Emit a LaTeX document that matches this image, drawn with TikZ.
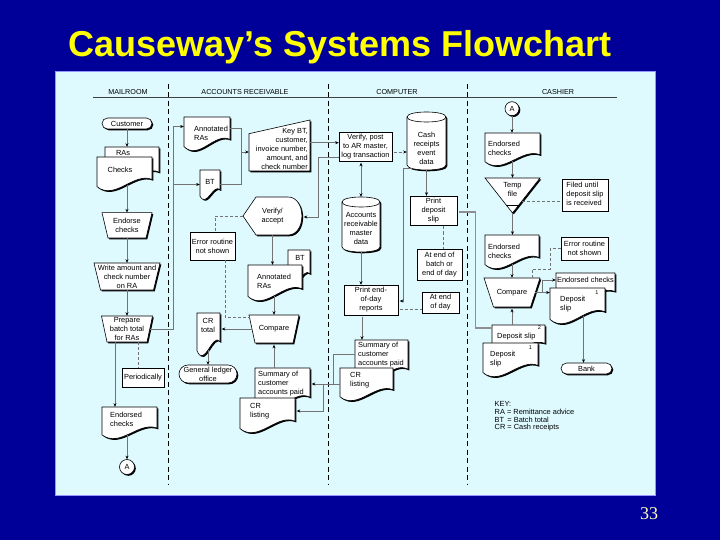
\documentclass[tikz,border=0pt]{standalone}
\usepackage{fontspec}
\setmainfont{Liberation Sans}
\newfontfamily\numfont{Liberation Serif}
\usetikzlibrary{arrows.meta,calc}
\definecolor{bgblue}{RGB}{0,0,153}
\definecolor{panelc}{RGB}{222,250,255}
\definecolor{panelb}{RGB}{150,150,255}
\definecolor{linec}{RGB}{115,115,115}
\definecolor{ttl}{RGB}{255,255,0}
\definecolor{numc}{RGB}{255,255,190}
\newcommand\fs{\fontsize{7.4}{9}\selectfont}
\tikzset{
 shapeline/.style={fill=white,draw=black,line width=0.6pt},
 lbl/.style={font=\fs,inner sep=0pt,align=center},
 anc/.style={inner sep=0pt},
 ln/.style={draw=linec,line width=0.6pt},
 ar/.style={ln,-{Stealth[length=3.6pt,width=3pt,color=black]}},
 dar/.style={ln,{Stealth[length=3.6pt,width=3pt,color=black]}-{Stealth[length=3.6pt,width=3pt,color=black]}},
 dl/.style={ln,dash pattern=on 3pt off 2pt},
 dlar/.style={dl,-{Stealth[length=3.6pt,width=3pt,color=black]}},
 lane/.style={draw=black,line width=0.7pt,dash pattern=on 5pt off 3.5pt},
 hdr/.style={font=\fontsize{7.2}{8}\selectfont,inner sep=0pt,anchor=base},
 thk/.style={draw=linec!80,line width=1.3pt},
 ann/.style={lbl,draw=black,line width=0.5pt,fill=white},
 numsty/.style={font=\fontsize{5.5}{6}\selectfont,inner sep=0pt},
 keysty/.style={font=\fs,inner sep=0pt,anchor=base west},
}
% shape with drop shadow
\newcommand\shp[1]{\fill[black,shift={(1.3,1.3)}] #1; \filldraw[shapeline] #1;}
% process box: name x0 y0 x1 y1 text
\newcommand\procnode[6]{%
 \shp{(#2,#3) rectangle (#4,#5)}%
 \pgfmathsetmacro\nw{#4-#2}\pgfmathsetmacro\nh{#5-#3}%
 \node[lbl,minimum width=\nw pt,minimum height=\nh pt] (#1) at ({(#2+#4)/2},{(#3+#5)/2}) {#6};}
% annotation box
\newcommand\annnode[6]{%
 \pgfmathsetmacro\nw{#4-#2}\pgfmathsetmacro\nh{#5-#3}%
 \node[ann,minimum width=\nw pt,minimum height=\nh pt] (#1) at ({(#2+#4)/2},{(#3+#5)/2}) {#6};}
% terminal
\newcommand\termnode[6]{%
 \pgfmathsetmacro\rr{(#5-#3)/2}%
 \shp{(#2,#3) [rounded corners=\rr pt] rectangle (#4,#5)}%
 \pgfmathsetmacro\nw{#4-#2}\pgfmathsetmacro\nh{#5-#3}%
 \node[lbl,minimum width=\nw pt,minimum height=\nh pt] (#1) at ({(#2+#4)/2},{(#3+#5)/2}) {#6};}
% manual operation: name cx ytop topw botw ybot text
\newcommand\manop[7]{%
 \shp{({#2-#4/2},#3) -- ({#2+#4/2},#3) -- ({#2+#5/2},#6) -- ({#2-#5/2},#6) -- cycle}%
 \pgfmathsetmacro\nw{(#4+#5)/2}\pgfmathsetmacro\nh{#6-#3}%
 \node[lbl,minimum width=\nw pt,minimum height=\nh pt] (#1) at (#2,{(#3+#6)/2}) {#7};}
% document: name x0 y0 x1 y1 tx ty opts text
\newcommand\docnode[9]{%
 \shp{(#2,#3) -- (#4,#3) -- (#4,{#5-0.32*(#5-#3)}) .. controls ({#2+0.67*(#4-#2)},{#5-0.55*(#5-#3)}) and ({#2+0.33*(#4-#2)},{#5+0.33*(#5-#3)}) .. (#2,{#5-0.1*(#5-#3)}) -- cycle}%
 \pgfmathsetmacro\nw{#4-#2}\pgfmathsetmacro\nh{#5-#3}%
 \node[anc,minimum width=\nw pt,minimum height=\nh pt] (#1) at ({(#2+#4)/2},{(#3+#5)/2}) {};%
 \node[lbl,#8] (#1-t) at (#6,#7) {#9};}
% cylinder: name x0 y0 x1 y1 ty text
\newcommand\cylnode[7]{%
 \shp{(#2,{#3+5}) -- (#2,{#5-5}) .. controls (#2,{#5+1.67}) and (#4,{#5+1.67}) .. (#4,{#5-5}) -- (#4,{#3+5}) .. controls (#4,{#3-1.67}) and (#2,{#3-1.67}) .. cycle}%
 \draw[black,line width=0.6pt] (#2,{#3+5}) .. controls (#2,{#3+11.67}) and (#4,{#3+11.67}) .. (#4,{#3+5});%
 \pgfmathsetmacro\nw{#4-#2}\pgfmathsetmacro\nh{#5-#3}%
 \node[anc,minimum width=\nw pt,minimum height=\nh pt] (#1) at ({(#2+#4)/2},{(#3+#5)/2}) {};%
 \node[lbl] (#1-t) at ({(#2+#4)/2},#6) {#7};}
% connector circle
\newcommand\connA[4]{%
 \fill[black] ({#2+1.3},{#3+1.3}) circle[radius=#4pt];%
 \filldraw[shapeline] (#2,#3) circle[radius=#4pt];%
 \pgfmathsetmacro\nw{2*#4}%
 \node[lbl,circle,minimum size=\nw pt] (#1) at (#2,#3) {A};}

\begin{document}
\begin{tikzpicture}[x=1pt,y=-1pt]
\useasboundingbox (0,0) rectangle (720,540);
\fill[bgblue] (0,0) rectangle (720,540);
\filldraw[fill=panelc,draw=panelb,line width=1pt] (55,72) rectangle (655,495);
\node[font=\fontsize{36}{40}\selectfont\bfseries,text=ttl,anchor=base,inner sep=0pt] (title) at (340,57) {Causeway’s Systems Flowchart};
\node[font=\numfont\fontsize{18}{20}\selectfont,text=numc,anchor=base,inner sep=0pt] (pnum) at (649,519) {33};

% headers and lanes
\draw[black!75,line width=0.6pt] (93,97) -- (617,97);
\node[hdr] (h1) at (128,95) {MAILROOM};
\node[hdr] (h2) at (245,95) {ACCOUNTS RECEIVABLE};
\node[hdr] (h3) at (397,95) {COMPUTER};
\node[hdr] (h4) at (558,95) {CASHIER};
\draw[lane] (168,84) -- (168,485);
\draw[lane] (328,84) -- (328,485);
\draw[lane] (467,84) -- (467,485);

% ---------- MAILROOM ----------
\termnode{customer}{102}{118}{152}{129}{Customer}
\docnode{ras}{105}{147}{159}{184}{123}{152.5}{}{RAs}
\docnode{checks}{97}{157}{152}{190}{120}{169.5}{}{Checks}
\manop{endorse}{127}{212.7}{50}{38}{238}{Endorse\\checks}
\manop{write}{127}{263}{66}{53}{290}{Write amount and\\check number\\on RA}
\manop{prepare}{127}{316}{51}{40}{342}{Prepare\\batch total\\for RAs}
\annnode{periodically}{122}{368}{164}{387}{Periodically}
\docnode{endorsed}{102}{407}{157}{438}{110}{419}{anchor=west,align=left}{Endorsed\\checks}
\connA{conA1}{127}{467}{7.5}

% ---------- ACCOUNTS RECEIVABLE ----------
\docnode{annras1}{184}{117}{230}{150}{194}{133}{anchor=west,align=left}{Annotated\\RAs}
\docnode{bt1}{200}{170}{220}{199}{210}{182}{}{BT}
\shp{(249,133.7) -- (310,120) -- (310,171) -- (249,171) -- cycle}
\node[anc,minimum width=61pt,minimum height=51pt] (keybt) at (279.5,145.5) {};
\node[lbl,anchor=east,align=right] (keybt-t) at (308,148.5) {Key BT,\\customer,\\invoice number,\\amount, and\\check number};
\shp{(243,216) -- (256,197) -- (288,197) .. controls (306.5,197) and (306.5,235) .. (288,235) -- (256,235) -- cycle}
\node[lbl,minimum width=59pt,minimum height=38pt] (verifyacc) at (272.5,216) {Verify/\\accept};
\annnode{err1}{190}{232}{235}{260}{Error routine\\not shown}
\docnode{bt2}{288}{250}{310}{285}{300}{258}{}{BT}
\docnode{annras2}{248}{265}{302}{300}{257}{281}{anchor=west,align=left}{Annotated\\RAs}
\manop{compare1}{274}{315}{50}{38}{343}{Compare}
\docnode{crtotal}{197}{313}{220}{355}{208}{325.5}{}{CR\\total}
\termnode{glo}{179}{365}{237}{383}{General ledger\\office}
\docnode{summ1}{255}{368}{310}{411}{258}{384}{anchor=west,align=left}{Summary of\\customer\\accounts paid}
\docnode{crl1}{240}{398}{295}{432}{250}{411}{anchor=west,align=left}{CR\\listing}

% ---------- COMPUTER ----------
\procnode{verpost}{339}{132}{392}{161}{Verify, post\\to AR master,\\log transaction}
\cylnode{cashdb}{407}{112}{446}{170}{148}{Cash\\receipts\\event\\data}
\cylnode{armaster}{342}{197}{380}{252}{228.7}{Accounts\\receivable\\master\\data}
\procnode{printdep}{410}{196}{457}{225}{Print\\deposit\\slip}
\annnode{atbatch}{417}{249}{462}{280}{At end of\\batch or\\end of day}
\procnode{printeod}{344}{285}{398}{315}{Print end-\\of-day\\reports}
\annnode{ateod}{422}{292}{459}{313}{At end\\of day}
\docnode{summ2}{355}{340}{408}{383}{358}{355}{anchor=west,align=left}{Summary of\\customer\\accounts paid}
\docnode{crl2}{340}{368}{393}{400}{350}{380.5}{anchor=west,align=left}{CR\\listing}

% ---------- CASHIER ----------
\connA{conA2}{512}{108.7}{7}
\docnode{endc1}{485}{133}{540}{165}{488}{148}{anchor=west,align=left}{Endorsed\\checks}
\shp{(485,178) -- (540,178) -- (512.5,213) -- cycle}
\draw[black,line width=0.6pt] (506.2,205) -- (518.8,205);
\node[anc,minimum width=55pt,minimum height=35pt] (tempfile) at (512.5,195.5) {};
\node[lbl] (tempfile-t) at (512.5,189.5) {Temp\\file};
\annnode{filed}{562}{179}{608}{211}{\begin{tabular}{@{}l@{}}Filed until\\deposit slip\\is received\end{tabular}}
\docnode{endc2}{485}{235}{539}{268}{488}{251}{anchor=west,align=left}{Endorsed\\checks}
\manop{compare2}{512}{278}{56}{37}{307}{Compare}
\annnode{err2}{561}{237}{608}{260}{Error routine\\not shown}
\docnode{endc3}{556}{273}{615}{300}{585.5}{280}{}{Endorsed checks}
\docnode{dep1r}{550}{288}{605}{323}{560}{304}{anchor=west,align=left}{Deposit\\slip}
\node[numsty] (n1r) at (597,293) {1};
\termnode{bank}{561}{363}{612}{374}{Bank}
\docnode{depslip2}{492}{325}{545}{352}{497}{336.5}{anchor=west}{Deposit slip}
\node[numsty] (n2) at (539.5,327.5) {2};
\docnode{depslip1}{483}{343}{538}{376}{490}{359.5}{anchor=west,align=left}{Deposit\\slip}
\node[numsty] (n1) at (530.5,347.5) {1};

\node[keysty] (key1) at (494.5,406) {KEY:};
\node[keysty] (key2) at (494.5,414) {RA = Remittance advice};
\node[keysty] (key3) at (494.5,422) {BT\, = Batch total};
\node[keysty] (key4) at (494.5,429.5) {CR = Cash receipts};

% ---------- connectors: mailroom ----------
\draw[ar] (customer.south) -- (customer.south |- ras.north);
\draw[ar] ($(endorse.north |- checks.south)+(0,-5.5)$) -- (endorse.north);
\draw[ar] (endorse.south) -- (write.north);
\draw[ar] (write.south) -- (prepare.north);
\coordinate (a1in) at ($(annras1.west)+(0,-7)$);
\draw[ar] (prepare.east) -- ++(23,0) coordinate (j1) |- (a1in);
\draw[ar] (j1 |- bt1.west) -- (bt1.west);
\draw[ar] ($(prepare.south)+(-12,0)$) coordinate (p1) -- (p1 |- endorsed.north);
\draw[dl] ($(prepare.south)+(11,0)$) coordinate (p2) -- (p2 |- periodically.north);
\draw[ar] ($(conA1.north |- endorsed.south)+(0,-3)$) -- (conA1.north);

% ---------- connectors: accounts receivable ----------
\draw[ln] ($(annras1.east)+(0,-5)$) -- ++(11,0) coordinate (j2) -- (j2 |- bt1.east) -- (bt1.east);
\coordinate (k1) at ($(keybt.west)+(0,6.5)$);
\draw[ar] (j2 |- k1) -- (k1);
\coordinate (v1) at ($(verpost.west)+(0,-3.8)$);
\draw[ar] (keybt.east |- v1) -- (v1);
\draw[ar] ($(verpost.west)+(0,10.5)$) -- ++(-21,0) |- ($(verifyacc.east)+(1.5,1)$);
\draw[dl] (verifyacc.west) -| ($(err1.north)+(2.5,0)$);
\draw[dl] ($(err1.south)+(12.5,0)$) |- ($(compare1.west)+(-2,-12)$);
\draw[ar] (verifyacc.south) -- (verifyacc.south |- annras2.north);
\draw[ar] ($(compare1.north |- annras2.south)+(0,-4)$) -- (compare1.north);
\draw[ar] (compare1.west) -- ($(compare1.west -| crtotal.east)+(1.5,0)$);
\draw[ar] ($(glo.north |- crtotal.south)+(0,-5)$) -- (glo.north);
\draw[ar] (compare1.south |- summ1.north) -- ($(compare1.south)+(0,1.5)$);

% ---------- connectors: computer ----------
\coordinate (c1) at ($(cashdb.west)+(0,11)$);
\draw[dlar] ($(verpost.east |- c1)+(1.3,0)$) -- (c1);
\draw[dar] ($(armaster.north |- verpost.south)+(0,1.5)$) -- (armaster.north);
\draw[ar] (cashdb.south) -- (cashdb.south |- printdep.north);
\draw[ar] ($(cashdb.south west)+(5,-1.7)$) -- ++(-9,0) |- ($(printeod.east)+(1.5,1)$);
\draw[ar] (armaster.south) -- (armaster.south |- printeod.north);
\coordinate (ab1) at ($(atbatch.north)+(3.5,0)$);
\draw[dl] ($(ab1 |- printdep.south)+(0,1.3)$) -- (ab1);
\coordinate (e1) at ($(ateod.west)+(0,6.5)$);
\draw[dl] ($(printeod.east |- e1)+(1.3,0)$) -- (e1);
\draw[ar] ($(printeod.south)+(-9,1.3)$) coordinate (pe1) -- (pe1 |- summ2.north);
\coordinate (s2out) at (summ2.west |- 0,354);
\draw[ln] (s2out) -- ++(-22,0) coordinate (j4) -- (j4 |- 0,384) -- (crl2.west |- 0,384);
\draw[ar] (j4 |- 0,384) -- ($(summ1.east |- 0,384)+(1.5,0)$);
\draw[ar] ($(summ1.east |- 0,384)+(13,0)$) |- ($(crl1.east)+(1.5,-4)$);
\draw[thk] ($(printdep.east)+(1.3,1.5)$) -- ++(16.7,0) coordinate (j6) |- ($(depslip2.west)+(0,-10.5)$);

% ---------- connectors: cashier ----------
\draw[ar] (conA2.south) -- (conA2.south |- endc1.north);
\draw[ar] ($(tempfile.north |- endc1.south)+(0,-4)$) -- (tempfile.north);
\draw[dl] ($(tempfile.east)+(-18,5.5)$) -- ($(filed.west)+(0,6)$);
\draw[ar] (tempfile.south) -- (tempfile.south |- endc2.north);
\draw[ar] ($(compare2.north |- endc2.south)+(0,-4.5)$) -- (compare2.north);
\draw[dl] ($(compare2.north)+(20,0)$) -- ++(0,-9) -- ++(18,0) |- (err2.west);
\draw[ar] (compare2.east) -- (compare2.east -| dep1r.west);
\draw[ar] ($(compare2.east)+(6.5,0)$) |- ($(endc3.west)+(0,-6.5)$);
\draw[ar] ($(bank.north |- dep1r.south)+(-3,-7.5)$) -- ($(bank.north)+(-3,0)$);
\draw[ar] (compare2.south |- depslip2.north) -- ($(compare2.south)+(0,1.5)$);
\end{tikzpicture}
\end{document}
